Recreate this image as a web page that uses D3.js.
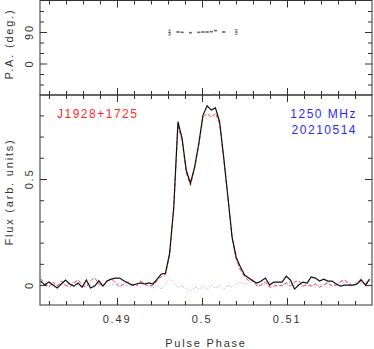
<!DOCTYPE html>
<html>
<head>
<meta charset="utf-8">
<script src="https://cdn.jsdelivr.net/npm/d3@7/dist/d3.min.js"></script>
<style>
  body { margin: 0; background: #fff; }
  svg text { font-family: "Liberation Sans", Arial, sans-serif; }
</style>
</head>
<body>
<div id="chart"></div>
<script>
// pulse phase of each profile bin
let phase = [
  0.48100, 0.48149, 0.48198, 0.48247, 0.48296, 0.48345, 0.48394, 0.48443, 0.48492, 0.48541,
  0.48590, 0.48639, 0.48688, 0.48737, 0.48786, 0.48835, 0.48884, 0.48933, 0.48982, 0.49031,
  0.49080, 0.49129, 0.49178, 0.49227, 0.49276, 0.49325, 0.49374, 0.49423, 0.49472, 0.49521,
  0.49570, 0.49619, 0.49668, 0.49717, 0.49766, 0.49815, 0.49864, 0.49913, 0.49962, 0.50011,
  0.50060, 0.50109, 0.50158, 0.50207, 0.50256, 0.50305, 0.50354, 0.50403, 0.50452, 0.50501,
  0.50550, 0.50599, 0.50648, 0.50697, 0.50746, 0.50795, 0.50844, 0.50893, 0.50942, 0.50991,
  0.51040, 0.51089, 0.51138, 0.51187, 0.51236, 0.51285, 0.51334, 0.51383, 0.51432, 0.51481,
  0.51530, 0.51579, 0.51628, 0.51677, 0.51726, 0.51775, 0.51824, 0.51873, 0.51922, 0.51971
];

// total intensity
let fluxI = [
  0.020, 0.000, 0.014, 0.000, -0.014, 0.005, 0.024, 0.005, -0.005, 0.010,
  -0.010, 0.024, -0.014, -0.005, 0.020, -0.005, 0.020, 0.028, 0.033, 0.033,
  0.020, 0.010, 0.000, 0.005, 0.010, 0.005, 0.010, 0.005, 0.028, 0.052,
  0.055, 0.150, 0.370, 0.770, 0.690, 0.540, 0.480, 0.556, 0.667, 0.800,
  0.845, 0.825, 0.835, 0.770, 0.600, 0.415, 0.226, 0.130, 0.085, 0.047,
  0.033, 0.019, 0.009, 0.019, 0.033, 0.000, 0.014, 0.014, 0.014, 0.042,
  0.024, -0.019, 0.000, 0.014, 0.009, 0.038, 0.033, 0.019, 0.028, 0.019,
  0.019, 0.005, -0.005, 0.000, 0.000, 0.000, 0.005, 0.024, 0.000, 0.028
];

// linear polarisation
let fluxL = [
  0.030, 0.010, -0.010, 0.015, -0.005, 0.020, 0.000, -0.010, 0.010, 0.025,
  0.000, -0.010, 0.020, 0.035, 0.005, -0.005, 0.015, 0.030, 0.010, -0.010,
  0.005, 0.015, 0.000, -0.005, 0.020, 0.005, -0.005, 0.000, 0.020, 0.040,
  0.050, 0.140, 0.360, 0.750, 0.680, 0.530, 0.470, 0.550, 0.660, 0.790,
  0.810, 0.790, 0.810, 0.760, 0.590, 0.410, 0.220, 0.120, 0.070, 0.040,
  0.020, 0.025, -0.005, 0.000, 0.015, -0.010, -0.005, 0.000, -0.005, 0.010,
  -0.005, 0.015, 0.020, -0.005, 0.000, -0.005, 0.005, -0.010, 0.000, 0.010,
  -0.005, 0.000, 0.015, 0.025, 0.005, -0.005, 0.010, 0.030, -0.005, 0.020
];

// circular polarisation
let fluxV = [
  0.005, 0.000, -0.010, 0.005, 0.000, 0.010, -0.005, 0.005, 0.015, 0.000,
  -0.010, 0.005, 0.000, -0.005, 0.010, 0.005, -0.005, 0.000, 0.010, 0.005,
  0.000, -0.005, 0.005, 0.000, -0.010, 0.005, -0.005, -0.015, 0.000, -0.020,
  0.005, 0.030, 0.010, -0.010, -0.005, -0.015, -0.030, -0.010, -0.020, -0.005,
  -0.020, 0.000, -0.015, -0.005, -0.020, 0.000, -0.010, 0.005, 0.015, 0.005,
  0.010, 0.015, -0.005, 0.010, 0.000, 0.015, 0.005, 0.020, 0.000, 0.010,
  0.015, 0.000, 0.005, -0.005, 0.010, 0.000, -0.010, 0.000, 0.005, 0.015,
  0.000, 0.005, 0.025, 0.010, 0.015, 0.000, 0.020, 0.005, 0.010, 0.020
];

// position angle points
let paPhase = [0.49619, 0.49717, 0.49766, 0.49864, 0.49962, 0.50011, 0.50060, 0.50109, 0.50158, 0.50256, 0.50403, 0.50150, 0.50270];
let paValue = [88, 90, 89, 88, 89, 90, 90, 91, 94, 90, 90, -89, -89];
let paError = [7, 1, 1, 1, 1, 1, 1, 1, 1, 1, 7, 1, 1];

let xMajor = [0.49, 0.50, 0.51];
let xMajorLabels = ["0.49", "0.5", "0.51"];
let paMajor = [0, 90];
let paMajorLabels = ["0", "90"];
let fluxMajor = [0, 0.5];
let fluxMajorLabels = ["0", "0.5"];

let psrName = "J1928+1725";
let freqLabel = "1250 MHz";
let dateLabel = "20210514";

let svgWidth = 374, svgHeight = 349;
let leftX = 40, rightX = 372, topY = 0.5, midY = 95, bottomY = 305;
let axisColor = "#333";

let svg = d3.select("#chart").append("svg")
  .attr("width", svgWidth)
  .attr("height", svgHeight);

let xScale = d3.scaleLinear().domain([0.48094, 0.52]).range([leftX, rightX]);
let paScale = d3.scaleLinear().domain([-90, 180]).range([midY, topY]);
let fluxScale = d3.scaleLinear().domain([-0.094, 0.896]).range([bottomY, midY]);

let xMinor = d3.range(0.482, 0.5195, 0.002).filter(v => xMajor.every(m => Math.abs(m - v) > 1e-6));
let paMinor = d3.range(-60, 180, 30).filter(v => paMajor.indexOf(v) < 0);
let fluxMinor = d3.range(0, 0.9, 0.1).map(v => +v.toFixed(1)).filter(v => fluxMajor.indexOf(v) < 0);

function tickAxis(axisFn, scale, values, size, tx, ty) {
  let g = svg.append("g")
    .attr("transform", "translate(" + [tx, ty] + ")")
    .call(axisFn(scale).tickValues(values).tickSize(-size).tickFormat(""));
  g.select(".domain").remove();
  g.selectAll("line").attr("stroke", axisColor).attr("stroke-width", 1);
  return g;
}

// frames
[[topY, midY], [midY, bottomY]].forEach(function(r) {
  svg.append("rect")
    .attr("x", leftX).attr("y", r[0])
    .attr("width", rightX - leftX).attr("height", r[1] - r[0])
    .attr("fill", "none").attr("stroke", axisColor).attr("stroke-width", 1);
});

// x ticks on both panels
[topY, midY].forEach(function(y) {
  tickAxis(d3.axisTop, xScale, xMajor, 7, 0, y);
  tickAxis(d3.axisTop, xScale, xMinor, 4, 0, y);
});
[midY, bottomY].forEach(function(y) {
  tickAxis(d3.axisBottom, xScale, xMajor, 7, 0, y);
  tickAxis(d3.axisBottom, xScale, xMinor, 4, 0, y);
});

// y ticks
tickAxis(d3.axisLeft, paScale, paMajor, 7, leftX, 0);
tickAxis(d3.axisLeft, paScale, paMinor, 4, leftX, 0);
tickAxis(d3.axisRight, paScale, paMajor, 7, rightX, 0);
tickAxis(d3.axisRight, paScale, paMinor, 4, rightX, 0);
tickAxis(d3.axisLeft, fluxScale, fluxMajor, 7, leftX, 0);
tickAxis(d3.axisLeft, fluxScale, fluxMinor, 4, leftX, 0);
tickAxis(d3.axisRight, fluxScale, fluxMajor, 7, rightX, 0);
tickAxis(d3.axisRight, fluxScale, fluxMinor, 4, rightX, 0);

let labelStyle = function(sel) {
  return sel.attr("font-size", 11).attr("fill", "#333").attr("letter-spacing", 1.8);
};

// x tick labels
xMajor.forEach(function(v, i) {
  labelStyle(svg.append("text"))
    .attr("x", xScale(v)).attr("y", 323)
    .attr("text-anchor", "middle")
    .text(xMajorLabels[i]);
});

// rotated y tick labels
function yLabel(scale, v, txt) {
  labelStyle(svg.append("text"))
    .attr("transform", "translate(" + [33, scale(v)] + ") rotate(-90)")
    .attr("text-anchor", "middle")
    .text(txt);
}
paMajor.forEach((v, i) => yLabel(paScale, v, paMajorLabels[i]));
fluxMajor.forEach((v, i) => yLabel(fluxScale, v, fluxMajorLabels[i]));

labelStyle(svg.append("text"))
  .attr("transform", "translate(" + [13, 44] + ") rotate(-90)")
  .attr("text-anchor", "middle")
  .text("P.A. (deg.)");
labelStyle(svg.append("text"))
  .attr("transform", "translate(" + [13, 192] + ") rotate(-90)")
  .attr("text-anchor", "middle")
  .text("Flux (arb. units)");
labelStyle(svg.append("text"))
  .attr("x", 206).attr("y", 347)
  .attr("text-anchor", "middle")
  .text("Pulse Phase");

// clip for the profile panel
svg.append("clipPath").attr("id", "clipFlux")
  .append("rect").attr("x", leftX).attr("y", midY)
  .attr("width", rightX - leftX).attr("height", bottomY - midY);

let profile = svg.append("g").attr("clip-path", "url(#clipFlux)");

let line = function(values) {
  return d3.line()
    .x((d, i) => xScale(phase[i]))
    .y(d => fluxScale(d))(values);
};

profile.append("path")
  .attr("d", line(fluxV))
  .attr("fill", "none").attr("stroke", "#9a9aff")
  .attr("stroke-width", 1).attr("stroke-dasharray", "1,2");
profile.append("path")
  .attr("d", line(fluxL))
  .attr("fill", "none").attr("stroke", "#ff4040")
  .attr("stroke-width", 1).attr("stroke-dasharray", "4,2");
profile.append("path")
  .attr("d", line(fluxI))
  .attr("fill", "none").attr("stroke", "#111")
  .attr("stroke-width", 1.2);

// position angle with error bars
let pa = svg.append("g");
paPhase.forEach(function(p, i) {
  let cx = xScale(p);
  let y0 = paScale(paValue[i] - paError[i]);
  let y1 = paScale(paValue[i] + paError[i]);
  pa.append("line").attr("x1", cx).attr("x2", cx).attr("y1", y0).attr("y2", y1)
    .attr("stroke", "#777").attr("stroke-width", 0.8);
  [y0, y1].forEach(function(yy) {
    pa.append("line").attr("x1", cx - 1.5).attr("x2", cx + 1.5).attr("y1", yy).attr("y2", yy)
      .attr("stroke", "#777").attr("stroke-width", 0.8);
  });
  pa.append("rect").attr("x", cx - 1.5).attr("y", paScale(paValue[i]) - 0.5)
    .attr("width", 3).attr("height", 1).attr("fill", "#666");
});

// annotations
svg.append("text")
  .attr("x", 57).attr("y", 118)
  .attr("font-size", 12).attr("letter-spacing", 1.5)
  .attr("fill", "#ff2a2a")
  .text(psrName);
svg.append("text")
  .attr("x", 357).attr("y", 118)
  .attr("text-anchor", "end")
  .attr("font-size", 12).attr("letter-spacing", 1.5)
  .attr("fill", "#2a2aff")
  .text(freqLabel);
svg.append("text")
  .attr("x", 357).attr("y", 134)
  .attr("text-anchor", "end")
  .attr("font-size", 12).attr("letter-spacing", 1.5)
  .attr("fill", "#2a2aff")
  .text(dateLabel);
</script>
</body>
</html>
